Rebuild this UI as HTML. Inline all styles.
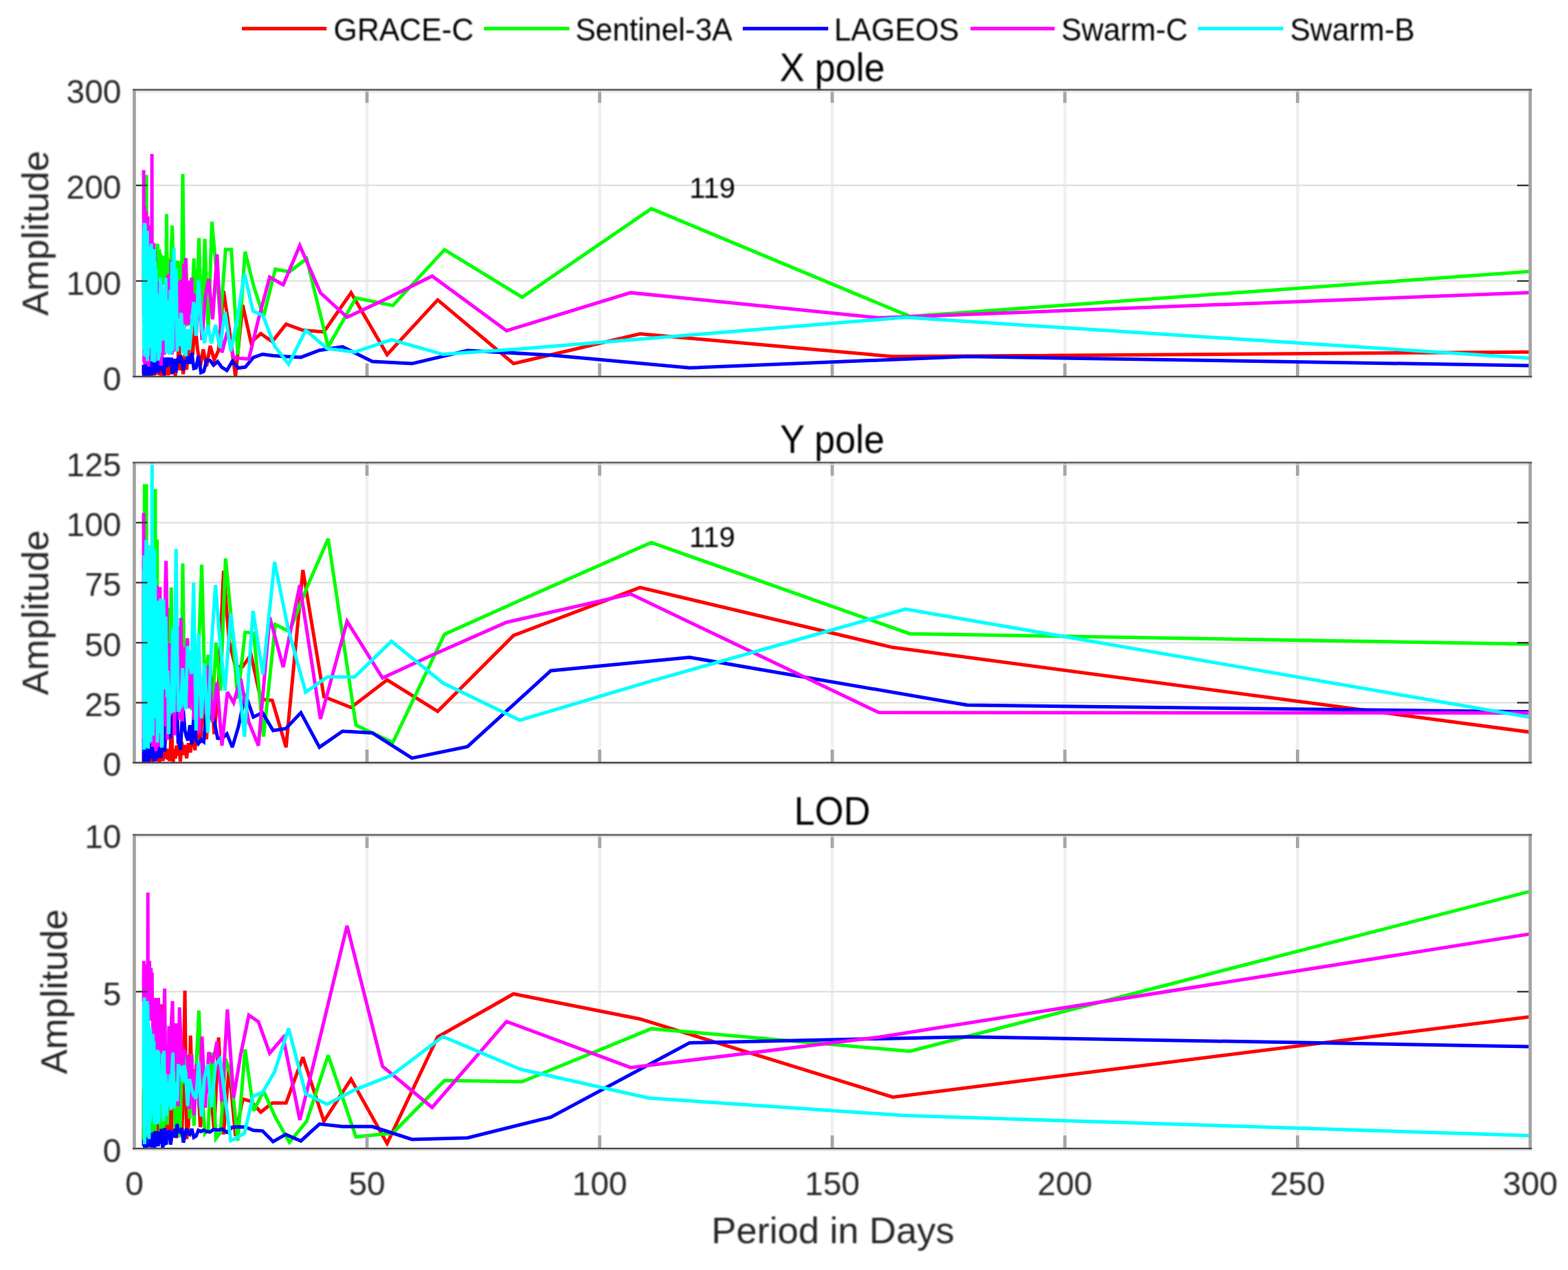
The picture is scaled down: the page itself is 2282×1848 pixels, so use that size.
<!DOCTYPE html><html><head><meta charset="utf-8"><title>Amplitude spectra: X pole, Y pole, LOD</title><style>html,body{margin:0;padding:0;background:#fff;overflow:hidden;}svg{display:block;}</style></head><body>
<svg width="2282" height="1848" viewBox="0 0 2282 1848" font-family="'Liberation Sans', Arial, Helvetica, sans-serif">
<rect x="0" y="0" width="2282" height="1848" fill="#ffffff"/>
<defs>
<filter id="tb" x="0" y="0" width="2282" height="1848" filterUnits="userSpaceOnUse"><feGaussianBlur stdDeviation="0.8"/></filter>
<clipPath id="c0"><rect x="195.5" y="130.7" width="2031.5" height="417.3"/></clipPath>
<clipPath id="c1"><rect x="195.5" y="673.2" width="2031.5" height="436.5999999999999"/></clipPath>
<clipPath id="c2"><rect x="195.5" y="1214.8" width="2031.5" height="456.4000000000001"/></clipPath>
</defs>
<line x1="534.1" y1="130.7" x2="534.1" y2="548.0" stroke="#f0f0f0" stroke-width="4.6"/>
<line x1="872.7" y1="130.7" x2="872.7" y2="548.0" stroke="#f0f0f0" stroke-width="4.6"/>
<line x1="1211.2" y1="130.7" x2="1211.2" y2="548.0" stroke="#f0f0f0" stroke-width="4.6"/>
<line x1="1549.8" y1="130.7" x2="1549.8" y2="548.0" stroke="#f0f0f0" stroke-width="4.6"/>
<line x1="1888.4" y1="130.7" x2="1888.4" y2="548.0" stroke="#f0f0f0" stroke-width="4.6"/>
<line x1="195.5" y1="408.9" x2="2227.0" y2="408.9" stroke="#e2e2e2" stroke-width="2.4"/>
<line x1="195.5" y1="269.8" x2="2227.0" y2="269.8" stroke="#e2e2e2" stroke-width="2.4"/>
<g clip-path="url(#c0)" fill="none" stroke-width="5" stroke-linejoin="miter" stroke-miterlimit="3">
<path d="M209.0,542.7 209.1,536.5 209.2,546.9 209.3,534.7 209.4,545.7 209.5,537.0 209.6,545.2 209.7,535.2 209.7,545.3 209.8,532.9 209.9,546.4 210.0,536.0 210.1,544.9 210.2,536.1 210.3,547.6 210.4,535.0 210.5,544.3 210.6,536.3 210.7,546.5 210.8,532.4 210.9,547.9 211.0,536.8 211.2,547.5 211.3,532.9 211.4,543.0 211.5,535.3 211.6,543.1 211.7,532.1 211.9,543.2 212.0,531.6 212.1,544.5 212.2,535.7 212.4,546.6 212.5,536.6 212.6,545.2 212.7,533.0 212.9,544.2 213.0,533.4 213.2,545.9 213.3,534.5 213.4,545.0 213.6,533.5 213.7,546.8 213.9,533.1 214.1,542.6 214.2,536.2 214.4,545.4 214.5,533.1 214.7,544.8 214.9,531.5 215.0,543.4 215.2,530.9 215.4,542.9 215.6,531.5 215.8,548.0 215.9,530.4 216.1,544.6 216.3,534.6 216.5,545.1 216.7,532.6 216.9,542.0 217.1,533.0 217.4,546.5 217.6,530.7 217.8,544.6 218.0,531.2 218.3,541.7 218.5,532.8 218.7,546.9 219.0,533.5 219.2,544.2 219.5,529.6 219.8,543.4 220.0,535.6 220.3,547.8 220.6,532.6 220.9,545.4 221.2,532.3 221.5,542.9 221.8,532.3 222.1,545.1 222.4,533.1 222.8,543.5 223.1,530.8 223.4,544.3 223.8,534.3 224.2,545.2 224.5,530.0 224.9,546.3 225.3,535.0 225.7,544.0 226.2,531.7 226.6,542.1 227.0,529.0 227.5,543.9 228.0,532.9 228.4,543.3 228.9,529.0 229.5,545.0 230.0,528.1 230.5,542.9 231.1,529.4 231.7,545.6 232.3,533.6 232.9,541.7 233.6,527.0 234.2,546.6 234.9,529.4 235.6,543.8 236.4,527.7 237.2,547.8 238.0,531.6 238.8,544.5 239.7,532.0 240.6,546.2 241.5,531.6 242.5,544.1 243.5,529.7 244.6,546.2 245.7,532.7 246.8,544.6 248.1,530.9 249.3,544.8 250.7,524.5 252.1,543.4 253.6,531.8 255.2,547.7 256.8,523.5 258.6,538.7 260.4,482.6 262.4,538.9 264.5,522.0 266.7,544.5 269.1,515.2 271.6,537.9 274.3,510.2 277.3,492.4 280.4,516.5 283.8,471.5 287.5,508.3 291.5,532.6 295.8,508.5 300.6,533.0 305.9,503.2 311.7,523.8 318.1,509.9 325.4,423.4 333.5,478.4 342.7,548.0 353.2,443.7 365.3,498.3 379.5,485.5 396.2,497.0 416.3,471.6 440.8,480.5 471.4,483.0 510.9,426.0 563.4,516.0 637.0,436.4 747.4,529.1 931.4,485.7 1299.3,518.8 2403.1,511.0" stroke="#ff0000"/>
<path d="M209.1,363.4 209.2,419.7 209.3,356.4 209.3,411.8 209.4,375.2 209.5,415.0 209.6,361.7 209.7,417.1 209.8,366.3 209.9,405.5 210.0,356.9 210.1,404.3 210.2,356.0 210.3,404.6 210.3,359.3 210.4,411.6 210.5,377.0 210.6,414.2 210.8,375.1 210.9,404.4 211.0,363.1 211.1,413.9 211.2,377.0 211.3,418.4 211.4,354.3 211.5,420.9 211.6,368.7 211.7,405.5 211.9,373.5 212.0,418.1 212.1,358.7 212.2,415.7 212.3,377.4 212.5,404.5 212.6,377.4 212.7,399.2 212.9,376.1 213.0,405.7 213.1,254.5 213.3,412.9 213.4,377.3 213.6,404.6 213.7,368.3 213.9,400.7 214.0,373.2 214.2,415.4 214.3,358.4 214.5,408.9 214.6,375.7 214.8,400.7 215.0,373.0 215.1,414.5 215.3,363.3 215.5,419.3 215.7,361.3 215.8,416.1 216.0,357.7 216.2,403.9 216.4,359.8 216.6,418.5 216.8,364.4 217.0,399.1 217.2,367.0 217.4,415.3 217.6,371.5 217.8,406.7 218.1,364.1 218.3,408.2 218.5,367.4 218.8,403.9 219.0,357.6 219.3,412.5 219.5,358.8 219.8,413.3 220.0,359.0 220.3,415.4 220.6,363.7 220.9,411.8 221.1,374.1 221.4,408.2 221.7,363.5 222.1,398.8 222.4,367.0 222.7,408.4 223.0,360.2 223.4,399.4 223.7,371.7 224.1,400.4 224.4,368.8 224.8,398.4 225.2,369.2 225.6,406.3 226.0,370.0 226.4,402.4 226.8,364.3 227.3,413.3 227.7,360.4 228.2,396.9 228.7,372.7 229.2,354.7 229.7,364.9 230.2,398.3 230.8,365.8 231.3,400.5 231.9,363.1 232.5,412.4 233.1,367.7 233.8,396.9 234.4,371.2 235.1,413.3 235.8,375.0 236.5,415.4 237.3,377.1 238.1,405.5 238.9,372.2 239.8,399.6 240.6,375.3 241.6,410.1 242.5,311.5 243.5,415.4 244.6,382.4 245.7,411.2 246.8,375.8 248.0,406.5 249.2,367.9 250.6,328.2 251.9,372.8 253.4,421.8 254.9,381.0 256.5,438.6 258.2,379.2 260.0,435.2 261.9,380.4 263.9,450.6 266.0,253.1 268.3,443.1 270.7,376.7 273.3,474.4 276.1,408.9 279.1,450.0 282.3,375.9 285.8,471.5 289.5,346.3 293.6,489.6 298.1,347.7 303.0,485.4 308.4,322.7 314.3,388.0 320.9,464.5 328.3,363.0 336.6,363.0 346.0,516.0 356.7,366.2 369.1,415.9 383.6,460.4 400.7,391.7 421.2,395.5 446.3,376.4 477.6,504.6 518.0,433.5 571.7,444.6 646.9,363.4 759.8,432.5 947.9,303.6 1324.1,460.4 2452.7,378.6" stroke="#00ff00"/>
<path d="M209.0,530.8 209.1,535.3 209.2,541.4 209.3,544.7 209.4,531.3 209.4,539.4 209.5,531.6 209.6,541.4 209.7,541.6 209.8,545.9 209.8,534.2 209.9,539.4 210.0,544.2 210.1,543.2 210.2,532.0 210.3,543.5 210.4,541.7 210.5,533.3 210.6,536.6 210.7,547.3 210.7,532.5 210.8,540.3 210.9,541.8 211.0,536.0 211.1,540.4 211.2,541.5 211.3,540.5 211.4,541.4 211.6,535.9 211.7,538.6 211.8,542.7 211.9,528.4 212.0,534.1 212.1,546.5 212.2,547.2 212.3,532.8 212.5,533.4 212.6,540.5 212.7,533.9 212.8,538.2 212.9,534.9 213.1,546.4 213.2,534.7 213.3,535.0 213.5,547.1 213.6,535.7 213.7,539.0 213.9,547.3 214.0,536.3 214.1,536.8 214.3,527.4 214.4,541.2 214.6,542.5 214.7,532.5 214.9,538.5 215.1,536.9 215.2,527.9 215.4,534.5 215.5,535.7 215.7,534.9 215.9,533.9 216.0,536.4 216.2,537.6 216.4,539.3 216.6,528.4 216.8,527.0 217.0,540.6 217.1,528.8 217.3,546.2 217.5,543.8 217.7,534.1 217.9,538.4 218.2,542.9 218.4,546.4 218.6,534.2 218.8,545.3 219.0,540.3 219.3,525.4 219.5,536.0 219.7,525.6 220.0,527.7 220.2,539.6 220.5,531.1 220.8,545.8 221.0,533.3 221.3,545.8 221.6,527.5 221.9,529.7 222.1,540.1 222.4,543.3 222.7,537.4 223.0,528.7 223.4,544.5 223.7,524.2 224.0,527.2 224.4,545.0 224.7,539.9 225.1,533.3 225.4,527.3 225.8,541.4 226.2,529.8 226.6,533.1 227.0,525.2 227.4,523.7 227.8,526.0 228.3,542.2 228.7,530.2 229.2,522.5 229.6,525.6 230.1,523.7 230.6,529.5 231.2,524.0 231.7,531.6 232.2,531.4 232.8,537.0 233.4,536.1 234.0,533.0 234.6,537.9 235.2,529.7 235.9,534.3 236.6,520.9 237.3,539.7 238.0,541.7 238.8,542.6 239.6,522.4 240.4,520.8 241.2,533.4 242.1,523.9 243.0,534.4 244.0,520.3 245.0,525.6 246.0,520.9 247.1,525.0 248.2,531.6 249.4,520.5 250.6,543.6 251.9,535.9 253.2,527.5 254.6,522.4 256.1,542.3 257.7,524.3 259.3,521.9 261.0,528.2 262.8,517.3 264.8,524.4 266.8,539.1 269.0,524.2 271.3,529.1 273.7,518.2 276.3,529.2 279.1,513.4 282.1,536.1 285.3,535.2 288.7,518.0 292.5,542.2 296.5,540.5 300.9,524.1 305.7,524.7 310.9,531.3 316.7,526.2 323.1,534.7 330.2,539.0 338.1,525.7 347.0,535.5 357.1,534.1 368.7,520.2 382.0,515.5 397.5,517.4 415.9,518.8 437.9,519.9 464.9,509.7 498.5,504.6 541.8,526.0 599.5,529.1 680.4,510.0 801.6,516.7 1003.6,535.3 1407.6,518.8 2619.8,538.3" stroke="#0000ff"/>
<path d="M209.1,247.5 209.2,351.7 209.3,457.3 209.3,305.4 209.4,461.7 209.5,362.9 209.6,526.4 209.7,339.9 209.8,472.7 209.9,315.9 210.0,480.3 210.1,307.4 210.2,501.0 210.3,300.6 210.4,487.8 210.5,306.3 210.6,529.9 210.7,371.0 210.8,463.2 210.9,364.2 211.0,517.2 211.1,363.7 211.3,513.5 211.4,381.3 211.5,493.8 211.6,317.2 211.7,462.5 211.9,364.7 212.0,500.3 212.1,382.2 212.2,501.2 212.4,366.4 212.5,496.0 212.6,307.5 212.8,501.5 212.9,325.3 213.0,492.2 213.2,377.6 213.3,455.3 213.5,368.2 213.6,495.5 213.8,385.1 213.9,522.4 214.1,336.0 214.3,520.9 214.4,385.2 214.6,529.5 214.8,374.1 214.9,501.3 215.1,315.1 215.3,526.6 215.5,369.2 215.7,506.3 215.8,332.3 216.0,521.2 216.2,389.5 216.4,533.4 216.6,368.6 216.8,461.6 217.1,365.8 217.3,523.9 217.5,362.1 217.7,519.8 218.0,374.3 218.2,473.5 218.4,351.2 218.7,464.7 218.9,367.9 219.2,477.5 219.4,328.5 219.7,513.1 220.0,398.5 220.3,464.9 220.6,347.9 220.8,465.8 221.1,223.9 221.5,484.6 221.8,399.7 222.1,501.8 222.4,391.4 222.8,511.0 223.1,388.5 223.5,491.5 223.8,353.5 224.2,518.4 224.6,403.3 225.0,527.5 225.4,365.0 225.8,502.0 226.2,417.3 226.7,497.0 227.1,433.3 227.6,522.0 228.1,425.0 228.6,525.2 229.1,434.6 229.6,525.5 230.2,409.0 230.7,519.1 231.3,432.1 231.9,510.7 232.5,440.4 233.2,506.6 233.9,450.7 234.5,532.2 235.3,417.1 236.0,520.7 236.8,445.6 237.6,515.2 238.4,426.5 239.3,516.0 240.2,430.4 241.1,496.9 242.1,414.1 243.1,507.8 244.2,400.4 245.3,509.6 246.5,398.4 247.7,476.4 249.0,378.8 250.4,515.7 251.8,402.2 253.3,511.5 254.1,419.9 254.9,496.1 255.7,432.0 256.5,499.6 257.4,412.0 258.3,457.3 259.2,409.1 260.2,461.7 261.2,420.4 262.2,473.3 263.2,407.3 264.3,456.9 265.4,406.5 266.5,453.6 267.7,383.9 269.0,475.6 270.2,375.5 271.5,471.0 272.9,414.4 274.3,472.5 275.8,408.2 277.3,457.0 278.8,404.1 280.5,467.7 282.2,427.5 285.8,484.7 289.7,422.4 294.0,494.8 298.7,432.2 303.8,406.1 309.5,464.5 315.9,370.0 323.0,513.2 330.9,482.6 340.0,519.9 350.3,521.6 362.2,522.4 376.1,464.5 392.5,403.3 412.2,414.5 436.3,357.4 466.4,426.0 505.1,461.5 556.7,437.4 628.9,401.7 737.2,481.2 917.8,425.9 1279.0,462.5 2362.4,420.5" stroke="#ff00ff"/>
<path d="M209.1,335.2 209.2,470.9 209.3,366.0 209.4,465.1 209.4,335.6 209.5,508.7 209.6,386.7 209.7,503.9 209.8,357.2 209.9,483.0 210.0,324.3 210.1,457.0 210.2,367.0 210.3,517.9 210.4,365.5 210.5,507.6 210.6,360.6 210.7,476.2 210.8,360.5 210.9,496.1 211.0,326.2 211.1,467.8 211.2,325.2 211.3,496.3 211.4,375.8 211.5,468.7 211.6,386.7 211.8,497.9 211.9,390.2 212.0,473.1 212.1,353.9 212.3,462.0 212.4,347.5 212.5,519.4 212.6,340.8 212.8,494.2 212.9,397.5 213.0,465.1 213.2,396.4 213.3,499.5 213.5,369.5 213.6,471.8 213.8,360.8 213.9,512.3 214.1,374.4 214.2,492.3 214.4,335.8 214.5,525.2 214.7,392.4 214.9,461.5 215.0,357.7 215.2,518.6 215.4,399.4 215.5,516.7 215.7,384.4 215.9,507.9 216.1,370.0 216.3,467.7 216.5,384.3 216.7,468.4 216.9,367.4 217.1,506.3 217.3,402.0 217.5,467.3 217.7,406.3 217.9,473.2 218.2,358.2 218.4,480.6 218.6,403.2 218.9,479.2 219.1,377.6 219.4,506.1 219.6,390.0 219.9,469.5 220.2,354.5 220.4,481.5 220.7,401.2 221.0,469.6 221.3,403.2 221.6,525.7 221.9,414.8 222.2,493.4 222.5,394.2 222.9,481.2 223.2,416.3 223.6,478.2 223.9,374.1 224.3,527.2 224.7,362.6 225.0,525.2 225.4,380.2 225.8,500.8 226.3,407.0 226.7,502.8 227.1,391.7 227.6,513.4 228.0,427.0 228.5,497.1 229.0,442.7 229.5,500.3 230.0,429.3 230.6,524.5 231.1,436.7 231.7,519.6 232.3,427.3 232.9,513.2 233.5,404.0 234.2,483.3 234.9,413.6 235.6,484.3 236.3,435.4 237.1,495.6 237.9,421.4 238.7,483.1 239.5,432.7 240.4,486.8 241.3,404.2 242.3,513.9 243.3,437.1 244.3,486.4 245.4,446.1 246.5,516.1 247.7,422.1 248.9,514.7 250.3,380.4 251.6,510.5 253.1,360.6 254.6,464.4 256.2,390.2 257.9,511.4 259.6,462.9 261.5,503.6 263.5,455.1 265.7,514.0 267.9,472.3 270.3,518.4 272.9,479.1 275.7,509.2 278.6,477.1 281.8,439.5 285.3,488.7 289.0,407.5 293.1,476.3 297.5,499.3 302.4,473.1 307.7,499.7 313.6,472.7 320.2,506.3 327.5,453.8 335.8,510.9 345.2,464.5 355.8,398.1 368.2,452.6 382.6,459.0 399.6,503.5 420.0,529.9 444.9,480.5 476.1,507.2 516.2,512.3 569.6,494.3 644.5,515.6 756.7,507.7 943.8,492.4 1317.9,461.8 2440.3,535.1" stroke="#00ffff"/>
</g>
<line x1="534.1" y1="548.0" x2="534.1" y2="529.0" stroke="#a6a6a6" stroke-width="4.8"/>
<line x1="534.1" y1="130.7" x2="534.1" y2="149.7" stroke="#a6a6a6" stroke-width="4.8"/>
<line x1="872.7" y1="548.0" x2="872.7" y2="529.0" stroke="#a6a6a6" stroke-width="4.8"/>
<line x1="872.7" y1="130.7" x2="872.7" y2="149.7" stroke="#a6a6a6" stroke-width="4.8"/>
<line x1="1211.2" y1="548.0" x2="1211.2" y2="529.0" stroke="#a6a6a6" stroke-width="4.8"/>
<line x1="1211.2" y1="130.7" x2="1211.2" y2="149.7" stroke="#a6a6a6" stroke-width="4.8"/>
<line x1="1549.8" y1="548.0" x2="1549.8" y2="529.0" stroke="#a6a6a6" stroke-width="4.8"/>
<line x1="1549.8" y1="130.7" x2="1549.8" y2="149.7" stroke="#a6a6a6" stroke-width="4.8"/>
<line x1="1888.4" y1="548.0" x2="1888.4" y2="529.0" stroke="#a6a6a6" stroke-width="4.8"/>
<line x1="1888.4" y1="130.7" x2="1888.4" y2="149.7" stroke="#a6a6a6" stroke-width="4.8"/>
<line x1="195.5" y1="408.9" x2="214.5" y2="408.9" stroke="#3c3c3c" stroke-width="2.4"/>
<line x1="2227.0" y1="408.9" x2="2208.0" y2="408.9" stroke="#3c3c3c" stroke-width="2.4"/>
<line x1="195.5" y1="269.8" x2="214.5" y2="269.8" stroke="#3c3c3c" stroke-width="2.4"/>
<line x1="2227.0" y1="269.8" x2="2208.0" y2="269.8" stroke="#3c3c3c" stroke-width="2.4"/>
<line x1="195.5" y1="129.5" x2="195.5" y2="549.2" stroke="#a4a4a4" stroke-width="4.8"/>
<line x1="2227.0" y1="129.5" x2="2227.0" y2="549.2" stroke="#a4a4a4" stroke-width="4.8"/>
<line x1="193.1" y1="130.7" x2="2229.4" y2="130.7" stroke="#666666" stroke-width="2.8"/>
<line x1="193.1" y1="548.0" x2="2229.4" y2="548.0" stroke="#4a4a4a" stroke-width="2.6"/>
<line x1="197.9" y1="133.29999999999998" x2="2224.6" y2="133.29999999999998" stroke="#d8d8d8" stroke-width="2.2" opacity="0.7"/>
<line x1="193.1" y1="550.6" x2="2229.4" y2="550.6" stroke="#e4e4e4" stroke-width="2.2"/>
<line x1="534.1" y1="673.2" x2="534.1" y2="1109.8" stroke="#f0f0f0" stroke-width="4.6"/>
<line x1="872.7" y1="673.2" x2="872.7" y2="1109.8" stroke="#f0f0f0" stroke-width="4.6"/>
<line x1="1211.2" y1="673.2" x2="1211.2" y2="1109.8" stroke="#f0f0f0" stroke-width="4.6"/>
<line x1="1549.8" y1="673.2" x2="1549.8" y2="1109.8" stroke="#f0f0f0" stroke-width="4.6"/>
<line x1="1888.4" y1="673.2" x2="1888.4" y2="1109.8" stroke="#f0f0f0" stroke-width="4.6"/>
<line x1="195.5" y1="1022.5" x2="2227.0" y2="1022.5" stroke="#e2e2e2" stroke-width="2.4"/>
<line x1="195.5" y1="935.2" x2="2227.0" y2="935.2" stroke="#e2e2e2" stroke-width="2.4"/>
<line x1="195.5" y1="847.8" x2="2227.0" y2="847.8" stroke="#e2e2e2" stroke-width="2.4"/>
<line x1="195.5" y1="760.5" x2="2227.0" y2="760.5" stroke="#e2e2e2" stroke-width="2.4"/>
<g clip-path="url(#c1)" fill="none" stroke-width="5" stroke-linejoin="miter" stroke-miterlimit="3">
<path d="M209.0,1109.0 209.1,1094.9 209.2,1107.5 209.3,1097.3 209.4,1109.4 209.5,1095.6 209.6,1108.1 209.7,1098.3 209.7,1108.5 209.8,1092.7 209.9,1108.1 210.0,1094.5 210.1,1104.5 210.2,1094.8 210.3,1108.4 210.4,1097.8 210.5,1105.3 210.6,1097.1 210.7,1108.0 210.8,1094.5 210.9,1104.6 211.0,1096.6 211.2,1105.4 211.3,1096.6 211.4,1103.7 211.5,1097.9 211.6,1109.1 211.7,1095.4 211.9,1106.0 212.0,1092.4 212.1,1103.8 212.2,1096.7 212.4,1103.8 212.5,1093.2 212.6,1108.6 212.7,1096.3 212.9,1104.6 213.0,1092.0 213.2,1108.8 213.3,1096.7 213.4,1104.2 213.6,1094.1 213.7,1106.7 213.9,1091.5 214.1,1106.9 214.2,1095.3 214.4,1105.9 214.5,1096.1 214.7,1106.0 214.9,1097.0 215.0,1109.3 215.2,1095.6 215.4,1107.6 215.6,1092.4 215.8,1108.1 215.9,1096.0 216.1,1103.2 216.3,1096.7 216.5,1105.5 216.7,1091.6 216.9,1107.1 217.1,1095.9 217.4,1103.8 217.6,1095.2 217.8,1104.3 218.0,1090.5 218.3,1108.0 218.5,1095.6 218.7,1106.9 219.0,1096.2 219.2,1105.4 219.5,1096.0 219.8,1104.7 220.0,1095.5 220.3,1106.7 220.6,1092.9 220.9,1108.6 221.2,1091.1 221.5,1109.4 221.8,1095.9 222.1,1108.0 222.4,1095.7 222.8,1104.4 223.1,1089.5 223.4,1107.4 223.8,1095.7 224.2,1107.8 224.5,1090.5 224.9,1105.2 225.3,1095.6 225.7,1106.9 226.2,1088.7 226.6,1106.3 227.0,1089.0 227.5,1108.2 228.0,1095.7 228.4,1103.3 228.9,1088.3 229.5,1106.8 230.0,1088.9 230.5,1106.7 231.1,1089.3 231.7,1109.2 232.3,1092.8 232.9,1108.0 233.6,1092.4 234.2,1104.1 234.9,1087.9 235.6,1101.7 236.4,1086.3 237.2,1107.5 238.0,1090.5 238.8,1104.2 239.7,1089.8 240.6,1104.3 241.5,1089.3 242.5,1102.5 243.5,1089.6 244.6,1105.7 245.7,1092.9 246.8,1107.6 248.1,1091.1 249.3,1039.9 250.7,1087.5 252.1,1109.7 253.6,1090.5 255.2,1103.8 256.8,1085.0 258.6,1099.6 260.4,1079.3 262.4,1108.3 264.5,1079.8 266.7,1098.6 269.1,1084.1 271.6,1103.4 274.3,1081.3 277.3,1095.0 280.4,1061.2 283.8,1091.9 287.5,1049.6 291.5,1081.4 295.8,1015.8 300.6,1075.7 305.9,973.3 311.7,1068.4 318.1,993.5 325.4,830.7 333.5,934.5 342.7,970.1 353.2,970.1 365.3,952.6 379.5,1017.6 396.2,1019.0 416.3,1087.4 440.8,829.3 471.4,1013.7 510.9,1029.5 563.4,989.3 637.0,1035.1 747.4,924.7 931.4,854.8 1299.3,942.1 2403.1,1088.8" stroke="#ff0000"/>
<path d="M209.1,851.4 209.2,990.4 209.3,814.2 209.3,963.2 209.4,831.8 209.5,1004.4 209.6,817.7 209.7,958.4 209.8,804.8 209.9,987.1 210.0,835.8 210.1,957.3 210.2,846.8 210.3,1019.7 210.3,704.6 210.4,965.6 210.5,873.4 210.6,981.9 210.8,827.8 210.9,1018.7 211.0,861.6 211.1,1022.1 211.2,827.3 211.3,982.3 211.4,843.7 211.5,962.0 211.6,863.8 211.7,968.1 211.9,863.4 212.0,1026.6 212.1,814.6 212.2,962.6 212.3,867.0 212.5,988.9 212.6,850.2 212.7,997.2 212.9,871.0 213.0,988.3 213.1,704.6 213.3,976.6 213.4,864.9 213.6,1038.0 213.7,851.2 213.9,960.3 214.0,813.8 214.2,990.8 214.3,889.6 214.5,1039.3 214.6,874.5 214.8,1013.1 215.0,833.8 215.1,1019.0 215.3,894.5 215.5,969.0 215.7,837.7 215.8,1025.3 216.0,868.5 216.2,968.8 216.4,884.6 216.6,966.8 216.8,861.7 217.0,967.1 217.2,863.2 217.4,1018.7 217.6,884.5 217.8,1005.5 218.1,897.3 218.3,992.5 218.5,876.7 218.8,1019.5 219.0,900.6 219.3,989.0 219.5,891.4 219.8,1000.0 220.0,898.2 220.3,984.3 220.6,879.0 220.9,1009.5 221.1,892.3 221.4,1003.3 221.7,879.2 222.1,982.4 222.4,908.9 222.7,1005.4 223.0,856.6 223.4,1005.0 223.7,889.1 224.1,1024.1 224.4,907.8 224.8,995.1 225.2,871.5 225.6,1016.1 226.0,711.6 226.4,997.0 226.8,858.2 227.3,978.4 227.7,877.0 228.2,1038.0 228.7,785.0 229.2,1010.7 229.7,890.2 230.2,1014.4 230.8,902.7 231.3,990.4 231.9,917.1 232.5,1036.8 233.1,886.0 233.8,1030.1 234.4,891.3 235.1,1021.2 235.8,921.1 236.5,1014.8 237.3,923.1 238.1,983.9 238.9,872.2 239.8,1034.6 240.6,901.3 241.6,986.5 242.5,928.4 243.5,1038.9 244.6,884.2 245.7,1016.7 246.8,914.5 248.0,1000.8 249.2,854.8 250.6,993.8 251.9,932.6 253.4,989.5 254.9,928.1 256.5,1015.7 258.2,930.8 260.0,1004.3 261.9,911.0 263.9,1008.2 266.0,819.9 268.3,998.3 270.7,931.9 273.3,1021.2 276.1,948.2 279.1,1033.1 282.3,920.8 285.8,1009.6 289.5,934.9 293.6,821.6 298.1,1005.0 303.0,952.6 308.4,1051.1 314.3,935.2 320.9,1005.0 328.3,812.6 336.6,900.2 346.0,1016.2 356.7,920.1 369.1,921.2 383.6,1072.1 400.7,908.6 421.2,919.1 446.3,855.5 477.6,783.9 518.0,1055.3 571.7,1080.5 646.9,922.9 759.8,872.3 947.9,789.5 1324.1,922.2 2452.7,941.0" stroke="#00ff00"/>
<path d="M209.0,1075.2 209.1,1079.1 209.2,1094.3 209.3,1097.1 209.4,1105.3 209.4,1108.6 209.5,1096.1 209.6,1099.1 209.7,1102.1 209.8,1080.7 209.8,1105.8 209.9,1079.1 210.0,1104.9 210.1,1094.3 210.2,1099.5 210.3,1097.9 210.4,1090.0 210.5,1092.6 210.6,1103.0 210.7,1082.0 210.7,1109.7 210.8,1088.2 210.9,1082.4 211.0,1106.7 211.1,1095.4 211.2,1108.4 211.3,1097.0 211.4,1102.4 211.6,1099.3 211.7,1100.9 211.8,1096.8 211.9,1088.2 212.0,1100.3 212.1,1078.5 212.2,1084.5 212.3,1100.2 212.5,1082.4 212.6,1075.9 212.7,1091.1 212.8,1108.6 212.9,1098.7 213.1,1084.7 213.2,1092.0 213.3,1090.3 213.5,1073.2 213.6,1091.0 213.7,1097.1 213.9,1109.6 214.0,1078.0 214.1,1095.8 214.3,1091.8 214.4,1106.8 214.6,1086.8 214.7,1099.4 214.9,1098.1 215.1,1105.1 215.2,1071.0 215.4,1109.7 215.5,1106.2 215.7,1096.3 215.9,1092.5 216.0,1108.3 216.2,1088.3 216.4,1087.7 216.6,1084.2 216.8,1107.0 217.0,1100.8 217.1,1105.3 217.3,1082.2 217.5,1103.2 217.7,1097.8 217.9,1095.9 218.2,1080.1 218.4,1095.1 218.6,1085.5 218.8,1085.9 219.0,1084.3 219.3,1101.0 219.5,1079.7 219.7,1084.6 220.0,1069.0 220.2,1104.0 220.5,1079.5 220.8,1093.9 221.0,1073.4 221.3,1101.1 221.6,1075.3 221.9,1071.5 222.1,1072.1 222.4,1091.8 222.7,1102.8 223.0,1081.7 223.4,1072.8 223.7,1074.0 224.0,1103.5 224.4,1107.9 224.7,1067.8 225.1,1077.3 225.4,1092.1 225.8,1066.2 226.2,1079.9 226.6,1106.4 227.0,1092.8 227.4,1100.7 227.8,1098.7 228.3,1098.7 228.7,1086.4 229.2,1103.5 229.6,1090.7 230.1,1080.4 230.6,1087.4 231.2,1097.3 231.7,1083.9 232.2,1099.7 232.8,1100.9 233.4,1087.4 234.0,1075.3 234.6,1102.9 235.2,1071.0 235.9,1080.8 236.6,1071.6 237.3,1052.2 238.0,1059.2 238.8,1054.4 239.6,1093.7 240.4,1078.9 241.2,1068.4 242.1,1069.6 243.0,1062.3 244.0,1052.9 245.0,1039.6 246.0,1058.3 247.1,1033.0 248.2,1074.4 249.4,1036.9 250.6,1026.0 251.9,1040.3 253.2,1034.6 254.6,1036.0 256.1,1035.8 257.7,1031.5 259.3,1082.1 261.0,1073.1 262.8,1091.3 264.8,1049.8 266.8,1033.8 269.0,1062.2 271.3,1071.8 273.7,1077.4 276.3,1055.2 279.1,1083.2 282.1,1041.1 285.3,1076.6 288.7,1082.1 292.5,1076.2 296.5,1079.4 300.9,1033.0 305.7,1044.5 310.9,1044.5 316.7,1074.2 323.1,1074.9 330.2,1067.9 338.1,1087.4 347.0,1057.4 357.1,1009.9 368.7,1043.4 382.0,1037.1 397.5,1063.0 415.9,1060.2 437.9,1037.1 464.9,1087.4 498.5,1064.0 541.8,1066.5 599.5,1103.2 680.4,1086.4 801.6,976.0 1003.6,956.5 1407.6,1026.0 2619.8,1040.4" stroke="#0000ff"/>
<path d="M209.0,746.5 209.1,1080.1 209.2,818.6 209.3,1080.1 209.4,873.0 209.5,1082.0 209.6,851.8 209.7,1056.5 209.8,870.3 209.9,1012.2 209.9,857.7 210.0,1037.9 210.1,851.1 210.2,1068.4 210.3,884.2 210.4,1022.6 210.5,878.4 210.7,1084.9 210.8,872.4 210.9,1060.1 211.0,851.3 211.1,997.8 211.2,875.2 211.3,1031.7 211.4,805.9 211.6,1063.0 211.7,821.6 211.8,1039.0 211.9,803.0 212.0,1056.0 212.2,865.4 212.3,1008.8 212.4,851.5 212.6,1017.7 212.7,807.6 212.8,1034.6 213.0,847.7 213.1,1058.1 213.3,828.1 213.4,1066.1 213.6,813.2 213.7,1034.4 213.9,882.1 214.0,1069.0 214.2,819.9 214.3,1072.6 214.5,888.8 214.7,1081.1 214.8,906.1 215.0,1070.7 215.2,874.7 215.4,1002.6 215.6,883.3 215.8,1037.8 215.9,814.8 216.1,1065.0 216.3,909.1 216.5,1057.6 216.7,887.8 217.0,1049.7 217.2,851.8 217.4,1077.3 217.6,884.5 217.8,1070.1 218.1,822.9 218.3,1040.3 218.6,881.3 218.8,1054.7 219.1,824.2 219.3,1027.6 219.6,914.5 219.8,1040.7 220.1,849.2 220.4,1082.1 220.7,911.3 221.0,1005.9 221.3,835.7 221.6,1073.3 221.9,873.9 222.3,1086.8 222.6,863.5 222.9,1054.5 223.3,875.0 223.6,1053.0 224.0,871.4 224.4,1031.7 224.8,877.6 225.2,1087.2 225.6,874.6 226.0,1085.3 226.5,856.1 226.9,1093.3 227.4,899.7 227.8,1087.6 228.3,852.1 228.8,1086.5 229.4,882.5 229.9,1023.8 230.5,909.3 231.0,1055.1 231.6,912.9 232.2,1049.8 232.9,854.2 233.5,1086.8 234.2,916.9 234.9,1039.7 235.6,883.3 236.4,1085.0 237.2,877.1 238.0,1020.2 238.8,886.2 239.7,1057.2 240.6,856.9 241.6,816.4 242.6,861.1 243.7,1076.6 244.7,936.7 245.9,1065.9 247.1,936.1 248.4,1041.3 249.7,937.0 251.1,1038.3 252.5,916.2 254.1,1070.1 255.7,920.4 257.4,1024.5 259.2,942.4 261.2,1047.1 263.2,899.2 265.4,1049.9 267.7,941.6 270.2,1011.4 272.9,928.7 275.8,1030.6 278.8,959.1 282.2,1047.5 285.8,977.3 289.7,1067.7 294.0,988.1 298.7,1039.3 303.8,968.4 309.5,1050.1 315.9,993.0 323.0,1085.0 330.9,1007.1 340.0,1022.5 350.3,987.6 362.2,1051.1 376.1,1085.0 392.5,898.1 412.2,970.8 436.3,851.3 466.4,1046.2 505.1,904.1 556.7,986.5 628.9,953.3 737.2,905.5 917.8,864.3 1279.0,1036.8 2362.4,1037.6" stroke="#ff00ff"/>
<path d="M209.1,919.5 209.2,910.5 209.3,886.3 209.4,829.0 209.4,886.5 209.5,1043.5 209.6,846.7 209.7,1090.9 209.8,845.2 209.9,968.8 210.0,808.1 210.1,940.6 210.2,920.7 210.3,861.3 210.4,984.8 210.5,1061.6 210.6,1052.1 210.7,812.7 210.8,987.6 210.9,912.3 211.0,831.4 211.1,1058.5 211.2,864.7 211.3,823.7 211.4,1038.6 211.5,1073.9 211.6,986.3 211.8,873.5 211.9,903.9 212.0,993.1 212.1,994.3 212.3,879.3 212.4,808.3 212.5,989.4 212.6,785.7 212.8,1014.8 212.9,1047.6 213.0,931.5 213.2,971.8 213.3,984.4 213.5,884.8 213.6,1087.7 213.8,815.8 213.9,815.7 214.1,844.5 214.2,838.1 214.4,995.9 214.5,908.3 214.7,874.5 214.9,901.4 215.0,985.2 215.2,975.2 215.4,892.4 215.5,989.7 215.7,1089.6 215.9,1066.2 216.1,1013.7 216.3,879.5 216.5,910.1 216.7,853.6 216.9,950.5 217.1,917.7 217.3,833.8 217.5,1073.4 217.7,1079.2 217.9,793.8 218.2,945.4 218.4,939.7 218.6,1044.0 218.9,804.4 219.1,820.0 219.4,1079.7 219.6,1005.0 219.9,867.2 220.2,811.4 220.4,838.9 220.7,979.3 221.0,944.8 221.3,673.2 221.6,951.3 221.9,856.7 222.2,824.8 222.5,1070.6 222.9,964.0 223.2,995.7 223.6,835.0 223.9,1002.9 224.3,863.3 224.7,798.9 225.0,1028.7 225.4,997.9 225.8,842.8 226.3,1045.6 226.7,962.0 227.1,988.7 227.6,950.0 228.0,878.1 228.5,973.7 229.0,1080.4 229.5,1063.3 230.0,1067.6 230.6,874.0 231.1,971.5 231.7,1022.9 232.3,919.6 232.9,927.9 233.5,871.0 234.2,1052.1 234.9,1059.9 235.6,1088.0 236.3,878.4 237.1,982.1 237.9,872.3 238.7,903.5 239.5,1003.0 240.4,953.7 241.3,897.4 242.3,972.3 243.3,1014.7 244.3,976.3 245.4,1068.1 246.5,1005.5 247.7,998.4 248.9,1037.9 250.3,987.2 251.6,913.5 253.1,1036.4 254.6,939.9 256.2,798.9 257.9,948.1 259.6,1035.6 261.5,1030.6 263.5,1028.0 265.7,972.2 267.9,1020.2 270.3,1032.3 272.9,940.0 275.7,958.9 278.6,980.7 281.8,847.8 285.3,1063.0 289.0,921.9 293.1,1045.2 297.5,965.4 302.4,1066.3 307.7,939.8 313.6,851.3 320.2,935.2 327.5,1005.0 335.8,892.9 345.2,970.1 355.8,1072.1 368.2,889.1 382.6,981.3 399.6,817.8 420.0,917.7 444.9,1007.1 476.1,985.1 516.2,985.1 569.6,933.1 644.5,993.8 756.7,1048.0 943.8,992.1 1317.9,886.3 2440.3,1080.7" stroke="#00ffff"/>
</g>
<line x1="534.1" y1="1109.8" x2="534.1" y2="1090.8" stroke="#a6a6a6" stroke-width="4.8"/>
<line x1="534.1" y1="673.2" x2="534.1" y2="692.2" stroke="#a6a6a6" stroke-width="4.8"/>
<line x1="872.7" y1="1109.8" x2="872.7" y2="1090.8" stroke="#a6a6a6" stroke-width="4.8"/>
<line x1="872.7" y1="673.2" x2="872.7" y2="692.2" stroke="#a6a6a6" stroke-width="4.8"/>
<line x1="1211.2" y1="1109.8" x2="1211.2" y2="1090.8" stroke="#a6a6a6" stroke-width="4.8"/>
<line x1="1211.2" y1="673.2" x2="1211.2" y2="692.2" stroke="#a6a6a6" stroke-width="4.8"/>
<line x1="1549.8" y1="1109.8" x2="1549.8" y2="1090.8" stroke="#a6a6a6" stroke-width="4.8"/>
<line x1="1549.8" y1="673.2" x2="1549.8" y2="692.2" stroke="#a6a6a6" stroke-width="4.8"/>
<line x1="1888.4" y1="1109.8" x2="1888.4" y2="1090.8" stroke="#a6a6a6" stroke-width="4.8"/>
<line x1="1888.4" y1="673.2" x2="1888.4" y2="692.2" stroke="#a6a6a6" stroke-width="4.8"/>
<line x1="195.5" y1="1022.5" x2="214.5" y2="1022.5" stroke="#3c3c3c" stroke-width="2.4"/>
<line x1="2227.0" y1="1022.5" x2="2208.0" y2="1022.5" stroke="#3c3c3c" stroke-width="2.4"/>
<line x1="195.5" y1="935.2" x2="214.5" y2="935.2" stroke="#3c3c3c" stroke-width="2.4"/>
<line x1="2227.0" y1="935.2" x2="2208.0" y2="935.2" stroke="#3c3c3c" stroke-width="2.4"/>
<line x1="195.5" y1="847.8" x2="214.5" y2="847.8" stroke="#3c3c3c" stroke-width="2.4"/>
<line x1="2227.0" y1="847.8" x2="2208.0" y2="847.8" stroke="#3c3c3c" stroke-width="2.4"/>
<line x1="195.5" y1="760.5" x2="214.5" y2="760.5" stroke="#3c3c3c" stroke-width="2.4"/>
<line x1="2227.0" y1="760.5" x2="2208.0" y2="760.5" stroke="#3c3c3c" stroke-width="2.4"/>
<line x1="195.5" y1="672.0" x2="195.5" y2="1111.0" stroke="#a4a4a4" stroke-width="4.8"/>
<line x1="2227.0" y1="672.0" x2="2227.0" y2="1111.0" stroke="#a4a4a4" stroke-width="4.8"/>
<line x1="193.1" y1="673.2" x2="2229.4" y2="673.2" stroke="#666666" stroke-width="2.8"/>
<line x1="193.1" y1="1109.8" x2="2229.4" y2="1109.8" stroke="#4a4a4a" stroke-width="2.6"/>
<line x1="197.9" y1="675.8000000000001" x2="2224.6" y2="675.8000000000001" stroke="#d8d8d8" stroke-width="2.2" opacity="0.7"/>
<line x1="193.1" y1="1112.3999999999999" x2="2229.4" y2="1112.3999999999999" stroke="#e4e4e4" stroke-width="2.2"/>
<line x1="534.1" y1="1214.8" x2="534.1" y2="1671.2" stroke="#f0f0f0" stroke-width="4.6"/>
<line x1="872.7" y1="1214.8" x2="872.7" y2="1671.2" stroke="#f0f0f0" stroke-width="4.6"/>
<line x1="1211.2" y1="1214.8" x2="1211.2" y2="1671.2" stroke="#f0f0f0" stroke-width="4.6"/>
<line x1="1549.8" y1="1214.8" x2="1549.8" y2="1671.2" stroke="#f0f0f0" stroke-width="4.6"/>
<line x1="1888.4" y1="1214.8" x2="1888.4" y2="1671.2" stroke="#f0f0f0" stroke-width="4.6"/>
<line x1="195.5" y1="1443.0" x2="2227.0" y2="1443.0" stroke="#e2e2e2" stroke-width="2.4"/>
<g clip-path="url(#c2)" fill="none" stroke-width="5" stroke-linejoin="miter" stroke-miterlimit="3">
<path d="M209.0,1662.6 209.1,1660.3 209.2,1590.1 209.3,1584.0 209.4,1639.5 209.5,1651.6 209.6,1622.9 209.7,1595.1 209.7,1616.8 209.8,1621.6 209.9,1665.8 210.0,1583.0 210.1,1612.0 210.2,1666.1 210.3,1603.0 210.4,1649.5 210.5,1626.6 210.6,1646.8 210.7,1593.4 210.8,1621.6 210.9,1636.3 211.0,1619.3 211.2,1588.9 211.3,1598.4 211.4,1593.4 211.5,1653.9 211.6,1665.2 211.7,1605.0 211.9,1626.0 212.0,1578.3 212.1,1650.5 212.2,1630.1 212.4,1602.1 212.5,1574.2 212.6,1584.0 212.7,1642.8 212.9,1662.8 213.0,1656.2 213.2,1635.0 213.3,1646.6 213.4,1649.2 213.6,1663.6 213.7,1589.2 213.9,1628.0 214.1,1596.1 214.2,1592.2 214.4,1662.4 214.5,1656.2 214.7,1582.7 214.9,1649.3 215.0,1637.6 215.2,1625.9 215.4,1580.5 215.6,1614.8 215.8,1569.8 215.9,1565.8 216.1,1633.6 216.3,1569.0 216.5,1576.3 216.7,1603.5 216.9,1602.3 217.1,1636.0 217.4,1590.2 217.6,1585.2 217.8,1661.6 218.0,1659.1 218.3,1641.9 218.5,1610.4 218.7,1637.6 219.0,1567.6 219.2,1637.1 219.5,1653.5 219.8,1652.5 220.0,1605.3 220.3,1613.0 220.6,1606.3 220.9,1648.3 221.2,1587.6 221.5,1612.4 221.8,1619.1 222.1,1618.2 222.4,1550.9 222.8,1589.2 223.1,1658.2 223.4,1662.4 223.8,1629.4 224.2,1546.7 224.5,1628.9 224.9,1620.8 225.3,1630.7 225.7,1625.1 226.2,1558.9 226.6,1552.6 227.0,1647.3 227.5,1565.6 228.0,1614.7 228.4,1654.1 228.9,1577.9 229.5,1599.0 230.0,1572.1 230.5,1573.2 231.1,1551.2 231.7,1538.8 232.3,1645.0 232.9,1568.7 233.6,1642.0 234.2,1554.9 234.9,1659.5 235.6,1461.3 236.4,1610.9 237.2,1629.0 238.0,1601.4 238.8,1614.7 239.7,1543.5 240.6,1651.9 241.5,1560.8 242.5,1648.8 243.5,1624.7 244.6,1538.2 245.7,1652.0 246.8,1607.2 248.1,1628.8 249.3,1657.8 250.7,1589.6 252.1,1549.0 253.6,1570.4 255.2,1527.7 256.8,1656.2 258.6,1638.3 260.4,1638.1 262.4,1559.7 264.5,1653.4 266.7,1591.8 269.1,1441.6 271.6,1657.4 274.3,1637.5 277.3,1506.9 280.4,1603.2 283.8,1559.8 287.5,1562.7 291.5,1640.1 295.8,1608.8 300.6,1587.7 305.9,1580.3 311.7,1645.6 318.1,1509.6 325.4,1650.7 333.5,1551.6 342.7,1652.9 353.2,1599.1 365.3,1602.7 379.5,1618.3 396.2,1605.0 416.3,1605.0 440.8,1538.4 471.4,1631.5 510.9,1570.3 563.4,1663.9 637.0,1508.7 747.4,1446.2 931.4,1482.7 1299.3,1596.4 2403.1,1457.3" stroke="#ff0000"/>
<path d="M209.1,1662.0 209.2,1571.6 209.3,1660.7 209.3,1611.9 209.4,1659.9 209.5,1595.7 209.6,1610.3 209.7,1658.9 209.8,1589.6 209.9,1552.2 210.0,1650.4 210.1,1586.6 210.2,1658.3 210.3,1639.1 210.3,1643.0 210.4,1641.0 210.5,1614.7 210.6,1578.8 210.8,1573.9 210.9,1625.2 211.0,1611.3 211.1,1645.8 211.2,1660.4 211.3,1558.4 211.4,1625.8 211.5,1660.0 211.6,1560.7 211.7,1546.2 211.9,1576.1 212.0,1629.8 212.1,1645.2 212.2,1613.8 212.3,1655.6 212.5,1637.7 212.6,1647.9 212.7,1555.5 212.9,1640.1 213.0,1644.2 213.1,1653.8 213.3,1628.7 213.4,1539.0 213.6,1659.6 213.7,1638.4 213.9,1618.3 214.0,1582.2 214.2,1648.7 214.3,1630.0 214.5,1590.6 214.6,1609.5 214.8,1660.9 215.0,1542.8 215.1,1594.3 215.3,1562.4 215.5,1568.0 215.7,1628.3 215.8,1589.2 216.0,1576.6 216.2,1612.9 216.4,1574.1 216.6,1534.5 216.8,1597.5 217.0,1606.0 217.2,1609.4 217.4,1557.9 217.6,1614.4 217.8,1545.8 218.1,1560.7 218.3,1620.9 218.5,1658.5 218.8,1581.3 219.0,1645.2 219.3,1588.2 219.5,1565.6 219.8,1604.0 220.0,1659.4 220.3,1646.1 220.6,1627.3 220.9,1630.8 221.1,1628.3 221.4,1602.3 221.7,1648.0 222.1,1549.3 222.4,1654.8 222.7,1621.7 223.0,1606.9 223.4,1539.8 223.7,1543.5 224.1,1621.2 224.4,1617.5 224.8,1627.1 225.2,1532.1 225.6,1655.2 226.0,1604.3 226.4,1583.3 226.8,1617.0 227.3,1602.0 227.7,1594.5 228.2,1633.7 228.7,1596.3 229.2,1456.7 229.7,1632.4 230.2,1544.6 230.8,1584.6 231.3,1619.6 231.9,1605.1 232.5,1606.5 233.1,1542.7 233.8,1658.5 234.4,1602.8 235.1,1657.3 235.8,1645.3 236.5,1582.8 237.3,1558.3 238.1,1649.3 238.9,1585.0 239.8,1536.7 240.6,1564.8 241.6,1630.6 242.5,1535.9 243.5,1636.7 244.6,1590.0 245.7,1576.9 246.8,1493.2 248.0,1534.3 249.2,1564.7 250.6,1537.8 251.9,1593.3 253.4,1551.9 254.9,1643.0 256.5,1629.2 258.2,1591.6 260.0,1545.7 261.9,1655.0 263.9,1573.1 266.0,1538.4 268.3,1577.0 270.7,1537.6 273.3,1589.9 276.1,1627.9 279.1,1534.1 282.3,1638.1 285.8,1546.4 289.5,1470.4 293.6,1584.0 298.1,1649.3 303.0,1643.4 308.4,1531.5 314.3,1656.5 320.9,1647.8 328.3,1540.6 336.6,1566.7 346.0,1659.8 356.7,1527.0 369.1,1616.4 383.6,1587.7 400.7,1625.6 421.2,1662.1 446.3,1631.5 477.6,1535.6 518.0,1654.3 571.7,1648.8 646.9,1572.2 759.8,1574.0 947.9,1496.9 1324.1,1529.7 2452.7,1238.8" stroke="#00ff00"/>
<path d="M209.0,1667.7 209.1,1663.6 209.2,1664.6 209.3,1659.9 209.4,1665.4 209.4,1665.8 209.5,1666.4 209.6,1657.7 209.7,1666.9 209.8,1666.2 209.8,1666.7 209.9,1667.0 210.0,1662.5 210.1,1661.5 210.2,1660.0 210.3,1664.0 210.4,1658.6 210.5,1658.4 210.6,1669.9 210.7,1657.9 210.7,1666.8 210.8,1663.4 210.9,1662.9 211.0,1663.1 211.1,1660.8 211.2,1663.9 211.3,1660.5 211.4,1669.9 211.6,1664.7 211.7,1664.3 211.8,1668.5 211.9,1660.6 212.0,1668.0 212.1,1657.5 212.2,1669.0 212.3,1658.7 212.5,1665.2 212.6,1671.1 212.7,1659.6 212.8,1663.9 212.9,1663.5 213.1,1662.0 213.2,1667.3 213.3,1662.2 213.5,1661.8 213.6,1669.9 213.7,1655.2 213.9,1667.0 214.0,1657.0 214.1,1661.6 214.3,1665.5 214.4,1660.3 214.6,1669.3 214.7,1656.7 214.9,1661.5 215.1,1661.3 215.2,1657.4 215.4,1663.8 215.5,1665.9 215.7,1666.9 215.9,1659.5 216.0,1655.9 216.2,1658.4 216.4,1663.5 216.6,1658.3 216.8,1654.3 217.0,1655.7 217.1,1654.1 217.3,1664.6 217.5,1662.6 217.7,1653.6 217.9,1662.9 218.2,1666.2 218.4,1655.0 218.6,1660.3 218.8,1667.8 219.0,1660.4 219.3,1669.1 219.5,1666.7 219.7,1651.3 220.0,1651.5 220.2,1667.0 220.5,1661.2 220.8,1669.6 221.0,1667.0 221.3,1662.9 221.6,1649.6 221.9,1663.5 222.1,1654.3 222.4,1648.7 222.7,1658.8 223.0,1649.1 223.4,1652.2 223.7,1647.9 224.0,1654.5 224.4,1651.3 224.7,1670.6 225.1,1660.7 225.4,1669.8 225.8,1645.8 226.2,1666.8 226.6,1645.8 227.0,1655.0 227.4,1645.8 227.8,1655.9 228.3,1664.4 228.7,1647.2 229.2,1650.4 229.6,1647.7 230.1,1667.9 230.6,1663.2 231.2,1653.9 231.7,1646.3 232.2,1661.3 232.8,1661.6 233.4,1658.7 234.0,1659.8 234.6,1642.5 235.2,1650.8 235.9,1661.2 236.6,1669.7 237.3,1667.4 238.0,1666.6 238.8,1663.6 239.6,1641.3 240.4,1658.7 241.2,1663.7 242.1,1663.5 243.0,1647.2 244.0,1653.9 245.0,1648.8 246.0,1644.4 247.1,1652.6 248.2,1665.6 249.4,1657.7 250.6,1646.0 251.9,1648.8 253.2,1655.3 254.6,1642.5 256.1,1655.1 257.7,1635.6 259.3,1646.6 261.0,1645.3 262.8,1647.2 264.8,1641.2 266.8,1662.6 269.0,1653.4 271.3,1642.3 273.7,1648.4 276.3,1650.6 279.1,1642.5 282.1,1655.0 285.3,1653.1 288.7,1644.8 292.5,1646.4 296.5,1644.3 300.9,1646.6 305.7,1647.2 310.9,1643.5 316.7,1644.5 323.1,1643.0 330.2,1647.6 338.1,1640.2 347.0,1639.7 357.1,1639.9 368.7,1644.7 382.0,1645.6 397.5,1661.2 415.9,1650.7 437.9,1660.2 464.9,1635.6 498.5,1639.3 541.8,1639.3 599.5,1658.0 680.4,1655.7 801.6,1625.6 1003.6,1517.4 1407.6,1508.7 2619.8,1529.7" stroke="#0000ff"/>
<path d="M209.0,1457.5 209.1,1412.6 209.2,1411.4 209.3,1398.3 209.4,1451.1 209.5,1429.5 209.6,1447.2 209.7,1428.9 209.8,1465.4 209.9,1424.4 209.9,1443.3 210.0,1415.8 210.1,1481.5 210.2,1442.6 210.3,1475.8 210.4,1472.0 210.5,1479.2 210.7,1416.2 210.8,1405.8 210.9,1484.1 211.0,1424.7 211.1,1437.8 211.2,1403.3 211.3,1483.9 211.4,1413.4 211.6,1484.2 211.7,1472.6 211.8,1448.0 211.9,1469.2 212.0,1406.6 212.2,1440.3 212.3,1411.5 212.4,1417.0 212.6,1482.4 212.7,1446.4 212.8,1486.9 213.0,1452.4 213.1,1422.8 213.3,1459.6 213.4,1419.2 213.6,1453.8 213.7,1464.2 213.9,1406.0 214.0,1430.9 214.2,1450.4 214.3,1425.5 214.5,1439.1 214.7,1464.7 214.8,1487.1 215.0,1430.1 215.2,1298.8 215.4,1405.8 215.6,1458.0 215.8,1461.8 215.9,1461.0 216.1,1468.5 216.3,1452.5 216.5,1451.3 216.7,1436.0 217.0,1439.5 217.2,1414.6 217.4,1423.7 217.6,1398.3 217.8,1485.2 218.1,1418.9 218.3,1447.7 218.6,1460.1 218.8,1447.5 219.1,1483.4 219.3,1454.7 219.6,1465.9 219.8,1408.8 220.1,1449.0 220.4,1436.2 220.7,1471.7 221.0,1465.8 221.3,1415.3 221.6,1462.4 221.9,1483.1 222.3,1456.7 222.6,1514.2 222.9,1486.3 223.3,1487.2 223.6,1528.9 224.0,1489.2 224.4,1531.1 224.8,1500.4 225.2,1476.0 225.6,1451.9 226.0,1504.1 226.5,1543.4 226.9,1456.1 227.4,1488.0 227.8,1508.0 228.3,1542.5 228.8,1541.5 229.4,1507.5 229.9,1547.8 230.5,1452.1 231.0,1484.2 231.6,1531.2 232.2,1474.1 232.9,1462.2 233.5,1479.4 234.2,1482.1 234.9,1495.3 235.6,1548.2 236.4,1552.0 237.2,1476.6 238.0,1535.1 238.8,1475.4 239.7,1438.4 240.6,1539.2 241.6,1522.3 242.6,1553.3 243.7,1554.5 244.7,1580.3 245.9,1493.4 247.1,1506.6 248.4,1606.6 249.7,1482.0 251.1,1456.7 252.5,1560.4 254.1,1518.6 255.7,1489.0 257.4,1553.1 259.2,1609.6 261.2,1465.8 263.2,1511.0 265.4,1568.6 267.7,1527.2 270.2,1534.4 272.9,1538.6 275.8,1614.0 278.8,1534.9 282.2,1622.7 285.8,1547.9 289.7,1609.8 294.0,1508.4 298.7,1611.9 303.8,1531.2 309.5,1546.9 315.9,1515.6 323.0,1602.7 330.9,1469.0 340.0,1597.3 350.3,1534.3 362.2,1477.2 376.1,1486.8 392.5,1532.5 412.2,1509.6 436.3,1629.7 466.4,1506.9 505.1,1347.2 556.7,1551.6 628.9,1611.4 737.2,1486.4 917.8,1553.4 1279.0,1509.2 2362.4,1337.6" stroke="#ff00ff"/>
<path d="M209.1,1569.9 209.2,1487.7 209.3,1463.1 209.4,1580.0 209.4,1583.4 209.5,1540.6 209.6,1570.1 209.7,1543.5 209.8,1644.6 209.9,1545.8 210.0,1574.1 210.1,1451.5 210.2,1494.4 210.3,1586.3 210.4,1665.1 210.5,1538.2 210.6,1554.3 210.7,1588.7 210.8,1473.9 210.9,1589.4 211.0,1587.1 211.1,1483.4 211.2,1585.9 211.3,1549.5 211.4,1585.3 211.5,1504.9 211.6,1499.9 211.8,1591.7 211.9,1485.2 212.0,1615.0 212.1,1578.0 212.3,1465.1 212.4,1639.4 212.5,1613.8 212.6,1468.9 212.8,1474.5 212.9,1532.1 213.0,1602.9 213.2,1505.0 213.3,1524.2 213.5,1634.2 213.6,1590.0 213.8,1569.6 213.9,1618.1 214.1,1504.3 214.2,1456.8 214.4,1561.3 214.5,1638.6 214.7,1521.2 214.9,1461.9 215.0,1591.0 215.2,1475.2 215.4,1616.2 215.5,1539.5 215.7,1652.8 215.9,1526.7 216.1,1488.7 216.3,1630.2 216.5,1596.6 216.7,1506.9 216.9,1657.6 217.1,1605.0 217.3,1536.5 217.5,1545.8 217.7,1525.1 217.9,1512.9 218.2,1575.8 218.4,1525.7 218.6,1632.9 218.9,1495.5 219.1,1588.2 219.4,1573.3 219.6,1538.5 219.9,1571.9 220.2,1566.2 220.4,1596.4 220.7,1572.8 221.0,1559.5 221.3,1548.3 221.6,1555.2 221.9,1619.5 222.2,1584.8 222.5,1504.6 222.9,1622.5 223.2,1609.5 223.6,1530.9 223.9,1514.8 224.3,1540.8 224.7,1631.5 225.0,1624.0 225.4,1636.5 225.8,1587.8 226.3,1550.7 226.7,1607.7 227.1,1569.7 227.6,1572.6 228.0,1550.1 228.5,1527.6 229.0,1579.3 229.5,1635.9 230.0,1596.7 230.6,1529.0 231.1,1632.8 231.7,1569.8 232.3,1567.2 232.9,1568.6 233.5,1576.1 234.2,1561.0 234.9,1577.6 235.6,1604.3 236.3,1533.1 237.1,1610.8 237.9,1631.5 238.7,1528.9 239.5,1616.3 240.4,1567.9 241.3,1562.9 242.3,1623.4 243.3,1574.4 244.3,1609.4 245.4,1605.3 246.5,1579.7 247.7,1563.1 248.9,1615.4 250.3,1559.2 251.6,1531.6 253.1,1612.5 254.6,1575.4 256.2,1585.4 257.9,1602.4 259.6,1548.2 261.5,1564.1 263.5,1551.6 265.7,1573.9 267.9,1550.1 270.3,1561.4 272.9,1609.4 275.7,1570.1 278.6,1583.4 281.8,1593.5 285.3,1598.6 289.0,1545.2 293.1,1624.7 297.5,1568.6 302.4,1548.7 307.7,1611.3 313.6,1549.4 320.2,1541.0 327.5,1596.1 335.8,1659.8 345.2,1655.2 355.8,1648.8 368.2,1595.4 382.6,1589.0 399.6,1559.4 420.0,1496.4 444.9,1591.8 476.1,1606.8 516.2,1585.9 569.6,1564.9 644.5,1508.3 756.7,1555.7 943.8,1597.7 1317.9,1623.3 2440.3,1659.3" stroke="#00ffff"/>
</g>
<line x1="534.1" y1="1671.2" x2="534.1" y2="1652.2" stroke="#a6a6a6" stroke-width="4.8"/>
<line x1="534.1" y1="1214.8" x2="534.1" y2="1233.8" stroke="#a6a6a6" stroke-width="4.8"/>
<line x1="872.7" y1="1671.2" x2="872.7" y2="1652.2" stroke="#a6a6a6" stroke-width="4.8"/>
<line x1="872.7" y1="1214.8" x2="872.7" y2="1233.8" stroke="#a6a6a6" stroke-width="4.8"/>
<line x1="1211.2" y1="1671.2" x2="1211.2" y2="1652.2" stroke="#a6a6a6" stroke-width="4.8"/>
<line x1="1211.2" y1="1214.8" x2="1211.2" y2="1233.8" stroke="#a6a6a6" stroke-width="4.8"/>
<line x1="1549.8" y1="1671.2" x2="1549.8" y2="1652.2" stroke="#a6a6a6" stroke-width="4.8"/>
<line x1="1549.8" y1="1214.8" x2="1549.8" y2="1233.8" stroke="#a6a6a6" stroke-width="4.8"/>
<line x1="1888.4" y1="1671.2" x2="1888.4" y2="1652.2" stroke="#a6a6a6" stroke-width="4.8"/>
<line x1="1888.4" y1="1214.8" x2="1888.4" y2="1233.8" stroke="#a6a6a6" stroke-width="4.8"/>
<line x1="195.5" y1="1443.0" x2="214.5" y2="1443.0" stroke="#3c3c3c" stroke-width="2.4"/>
<line x1="2227.0" y1="1443.0" x2="2208.0" y2="1443.0" stroke="#3c3c3c" stroke-width="2.4"/>
<line x1="195.5" y1="1213.6" x2="195.5" y2="1672.4" stroke="#a4a4a4" stroke-width="4.8"/>
<line x1="2227.0" y1="1213.6" x2="2227.0" y2="1672.4" stroke="#a4a4a4" stroke-width="4.8"/>
<line x1="193.1" y1="1214.8" x2="2229.4" y2="1214.8" stroke="#666666" stroke-width="2.8"/>
<line x1="193.1" y1="1671.2" x2="2229.4" y2="1671.2" stroke="#4a4a4a" stroke-width="2.6"/>
<line x1="197.9" y1="1217.3999999999999" x2="2224.6" y2="1217.3999999999999" stroke="#d8d8d8" stroke-width="2.2" opacity="0.7"/>
<line x1="193.1" y1="1673.8" x2="2229.4" y2="1673.8" stroke="#e4e4e4" stroke-width="2.2"/>
<line x1="352.1" y1="41.7" x2="475.3" y2="41.7" stroke="#ff0000" stroke-width="5.2"/>
<line x1="704.3" y1="41.7" x2="828.6" y2="41.7" stroke="#00ff00" stroke-width="5.2"/>
<line x1="1081" y1="41.7" x2="1205.3" y2="41.7" stroke="#0000ff" stroke-width="5.2"/>
<line x1="1412.4" y1="41.7" x2="1534.8" y2="41.7" stroke="#ff00ff" stroke-width="5.2"/>
<line x1="1743.4" y1="41.7" x2="1867.7" y2="41.7" stroke="#00ffff" stroke-width="5.2"/>
<g filter="url(#tb)">
<text x="0" y="0" font-size="49" fill="#262626" text-anchor="end" transform="translate(176.5,567.6) scale(0.978,1.0)">0</text>
<text x="0" y="0" font-size="49" fill="#262626" text-anchor="end" transform="translate(176.5,428.5) scale(0.978,1.0)">100</text>
<text x="0" y="0" font-size="49" fill="#262626" text-anchor="end" transform="translate(176.5,289.4) scale(0.978,1.0)">200</text>
<text x="0" y="0" font-size="49" fill="#262626" text-anchor="end" transform="translate(176.5,150.3) scale(0.978,1.0)">300</text>
<text x="0" y="0" font-size="54" fill="#000" text-anchor="middle" transform="translate(1211.2,118.0) scale(1.0,1.05)">X pole</text>
<text x="0" y="0" font-size="54" fill="#262626" text-anchor="middle" transform="translate(70.0,339.4) rotate(-90)">Amplitude</text>
<text x="1003.2" y="287.6" font-size="42" fill="#000">119</text>
<text x="0" y="0" font-size="49" fill="#262626" text-anchor="end" transform="translate(176.5,1129.4) scale(0.978,1.0)">0</text>
<text x="0" y="0" font-size="49" fill="#262626" text-anchor="end" transform="translate(176.5,1042.1) scale(0.978,1.0)">25</text>
<text x="0" y="0" font-size="49" fill="#262626" text-anchor="end" transform="translate(176.5,954.8) scale(0.978,1.0)">50</text>
<text x="0" y="0" font-size="49" fill="#262626" text-anchor="end" transform="translate(176.5,867.4) scale(0.978,1.0)">75</text>
<text x="0" y="0" font-size="49" fill="#262626" text-anchor="end" transform="translate(176.5,780.1) scale(0.978,1.0)">100</text>
<text x="0" y="0" font-size="49" fill="#262626" text-anchor="end" transform="translate(176.5,692.8) scale(0.978,1.0)">125</text>
<text x="0" y="0" font-size="54" fill="#000" text-anchor="middle" transform="translate(1211.2,659.5) scale(1.0,1.05)">Y pole</text>
<text x="0" y="0" font-size="54" fill="#262626" text-anchor="middle" transform="translate(70.0,891.5) rotate(-90)">Amplitude</text>
<text x="1003.0" y="795.6" font-size="42" fill="#000">119</text>
<text x="0" y="0" font-size="49" fill="#262626" text-anchor="end" transform="translate(176.5,1690.8) scale(0.978,1.0)">0</text>
<text x="0" y="0" font-size="49" fill="#262626" text-anchor="end" transform="translate(176.5,1462.6) scale(0.978,1.0)">5</text>
<text x="0" y="0" font-size="49" fill="#262626" text-anchor="end" transform="translate(176.5,1234.4) scale(0.978,1.0)">10</text>
<text x="0" y="0" font-size="54" fill="#000" text-anchor="middle" transform="translate(1211.2,1200.5) scale(1.0,1.05)">LOD</text>
<text x="0" y="0" font-size="54" fill="#262626" text-anchor="middle" transform="translate(97.3,1443.0) rotate(-90)">Amplitude</text>
<text x="0" y="0" font-size="49" fill="#262626" text-anchor="middle" transform="translate(195.5,1739.0) scale(0.978,1.0)">0</text>
<text x="0" y="0" font-size="49" fill="#262626" text-anchor="middle" transform="translate(534.1,1739.0) scale(0.978,1.0)">50</text>
<text x="0" y="0" font-size="49" fill="#262626" text-anchor="middle" transform="translate(872.7,1739.0) scale(0.978,1.0)">100</text>
<text x="0" y="0" font-size="49" fill="#262626" text-anchor="middle" transform="translate(1211.2,1739.0) scale(0.978,1.0)">150</text>
<text x="0" y="0" font-size="49" fill="#262626" text-anchor="middle" transform="translate(1549.8,1739.0) scale(0.978,1.0)">200</text>
<text x="0" y="0" font-size="49" fill="#262626" text-anchor="middle" transform="translate(1888.4,1739.0) scale(0.978,1.0)">250</text>
<text x="0" y="0" font-size="49" fill="#262626" text-anchor="middle" transform="translate(2227.0,1739.0) scale(0.978,1.0)">300</text>
<text x="1212.0" y="1808.7" font-size="54.4" fill="#262626" text-anchor="middle">Period in Days</text>
<text x="0" y="0" font-size="44.2" fill="#000" transform="translate(485.6,59.4) scale(1.0,1.04)">GRACE-C</text>
<text x="0" y="0" font-size="44.2" fill="#000" transform="translate(837.4,59.4) scale(1.0,1.04)">Sentinel-3A</text>
<text x="0" y="0" font-size="44.2" fill="#000" transform="translate(1214.0,59.4) scale(1.0,1.04)">LAGEOS</text>
<text x="0" y="0" font-size="44.2" fill="#000" transform="translate(1544.5,59.4) scale(1.0,1.04)">Swarm-C</text>
<text x="0" y="0" font-size="44.2" fill="#000" transform="translate(1877.4,59.4) scale(1.0,1.04)">Swarm-B</text>
</g>
</svg></body></html>
